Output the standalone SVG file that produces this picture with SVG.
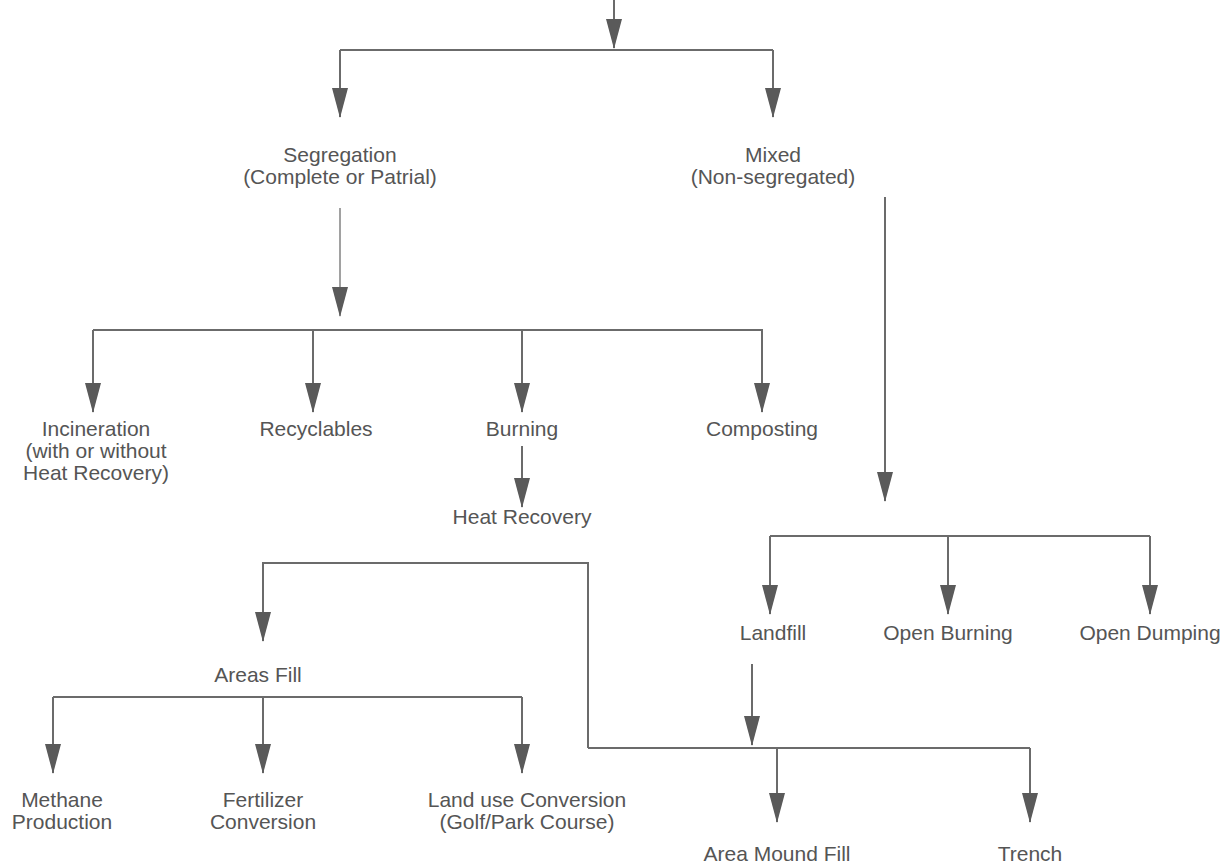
<svg xmlns="http://www.w3.org/2000/svg" width="1232" height="868" viewBox="0 0 1232 868">
  <style>
    .bg { fill: #ffffff; }
    .lbl { font-family: "Liberation Sans", Arial, Helvetica, sans-serif; font-size: 21px; fill: #555555; text-anchor: middle; }
    .wire { fill: none; stroke: #6b6b6b; stroke-width: 2; }
    .arrow { fill: none; stroke: #6b6b6b; stroke-width: 2; marker-end: url(#head); }
    .faint { stroke: #8a8a8a; stroke-width: 1.6; }
  </style>
  <defs>
    <marker id="head" viewBox="0 0 30 16" refX="29" refY="8" markerWidth="30" markerHeight="16" markerUnits="userSpaceOnUse" orient="auto">
      <path d="M0,0 L30,8 L0,16 z" fill="#5a5a5a"/>
    </marker>
  </defs>

  <rect class="bg" x="0" y="0" width="1232" height="868"/>

  <g id="connectors">
    <!-- top split -->
    <line class="arrow" x1="614" y1="0" x2="614" y2="48"/>
    <line class="wire" x1="340" y1="50" x2="773" y2="50"/>
    <line class="arrow" x1="340" y1="50" x2="340" y2="117"/>
    <line class="arrow" x1="773" y1="50" x2="773" y2="117"/>

    <!-- segregation branch -->
    <line class="arrow faint" x1="340" y1="208" x2="340" y2="316"/>
    <line class="wire" x1="93" y1="330" x2="763" y2="330"/>
    <line class="arrow" x1="93" y1="330" x2="93" y2="412"/>
    <line class="arrow" x1="313" y1="330" x2="313" y2="412"/>
    <line class="arrow" x1="522" y1="330" x2="522" y2="412"/>
    <line class="arrow" x1="762" y1="330" x2="762" y2="412"/>
    <line class="arrow" x1="522" y1="446" x2="522" y2="507"/>

    <!-- mixed branch -->
    <line class="arrow" x1="885" y1="197" x2="885" y2="501"/>
    <line class="wire" x1="770" y1="536" x2="1150" y2="536"/>
    <line class="arrow" x1="770" y1="536" x2="770" y2="614"/>
    <line class="arrow" x1="948" y1="536" x2="948" y2="614"/>
    <line class="arrow" x1="1150" y1="536" x2="1150" y2="614"/>

    <!-- landfill types -->
    <line class="arrow" x1="752" y1="664" x2="752" y2="745"/>
    <path class="arrow" d="M588,748 V563 H263 V641"/>
    <line class="wire" x1="588" y1="748" x2="1030" y2="748"/>
    <line class="arrow" x1="777" y1="748" x2="777" y2="822"/>
    <line class="arrow" x1="1030" y1="748" x2="1030" y2="822"/>

    <!-- area fill uses -->
    <line class="wire" x1="53" y1="697" x2="522" y2="697"/>
    <line class="arrow" x1="53" y1="697" x2="53" y2="773"/>
    <line class="arrow" x1="263" y1="697" x2="263" y2="773"/>
    <line class="arrow" x1="522" y1="697" x2="522" y2="773"/>
  </g>

  <g id="segregation">
    <text class="lbl" x="340" y="162">Segregation</text>
    <text class="lbl" x="340" y="184">(Complete or Patrial)</text>
  </g>
  <g id="mixed">
    <text class="lbl" x="773" y="162">Mixed</text>
    <text class="lbl" x="773" y="184">(Non-segregated)</text>
  </g>
  <g id="incineration">
    <text class="lbl" x="96" y="436">Incineration</text>
    <text class="lbl" x="96" y="458">(with or without</text>
    <text class="lbl" x="96" y="480">Heat Recovery)</text>
  </g>
  <g id="recyclables">
    <text class="lbl" x="316" y="436">Recyclables</text>
  </g>
  <g id="burning">
    <text class="lbl" x="522" y="436">Burning</text>
  </g>
  <g id="composting">
    <text class="lbl" x="762" y="436">Composting</text>
  </g>
  <g id="heat-recovery">
    <text class="lbl" x="522" y="524">Heat Recovery</text>
  </g>
  <g id="landfill">
    <text class="lbl" x="773" y="640">Landfill</text>
  </g>
  <g id="open-burning">
    <text class="lbl" x="948" y="640">Open Burning</text>
  </g>
  <g id="open-dumping">
    <text class="lbl" x="1150" y="640">Open Dumping</text>
  </g>
  <g id="areas-fill">
    <text class="lbl" x="258" y="682">Areas Fill</text>
  </g>
  <g id="methane">
    <text class="lbl" x="62" y="807">Methane</text>
    <text class="lbl" x="62" y="829">Production</text>
  </g>
  <g id="fertilizer">
    <text class="lbl" x="263" y="807">Fertilizer</text>
    <text class="lbl" x="263" y="829">Conversion</text>
  </g>
  <g id="land-use">
    <text class="lbl" x="527" y="807">Land use Conversion</text>
    <text class="lbl" x="527" y="829">(Golf/Park Course)</text>
  </g>
  <g id="area-mound">
    <text class="lbl" x="777" y="861">Area Mound Fill</text>
  </g>
  <g id="trench">
    <text class="lbl" x="1030" y="861">Trench</text>
  </g>
</svg>
